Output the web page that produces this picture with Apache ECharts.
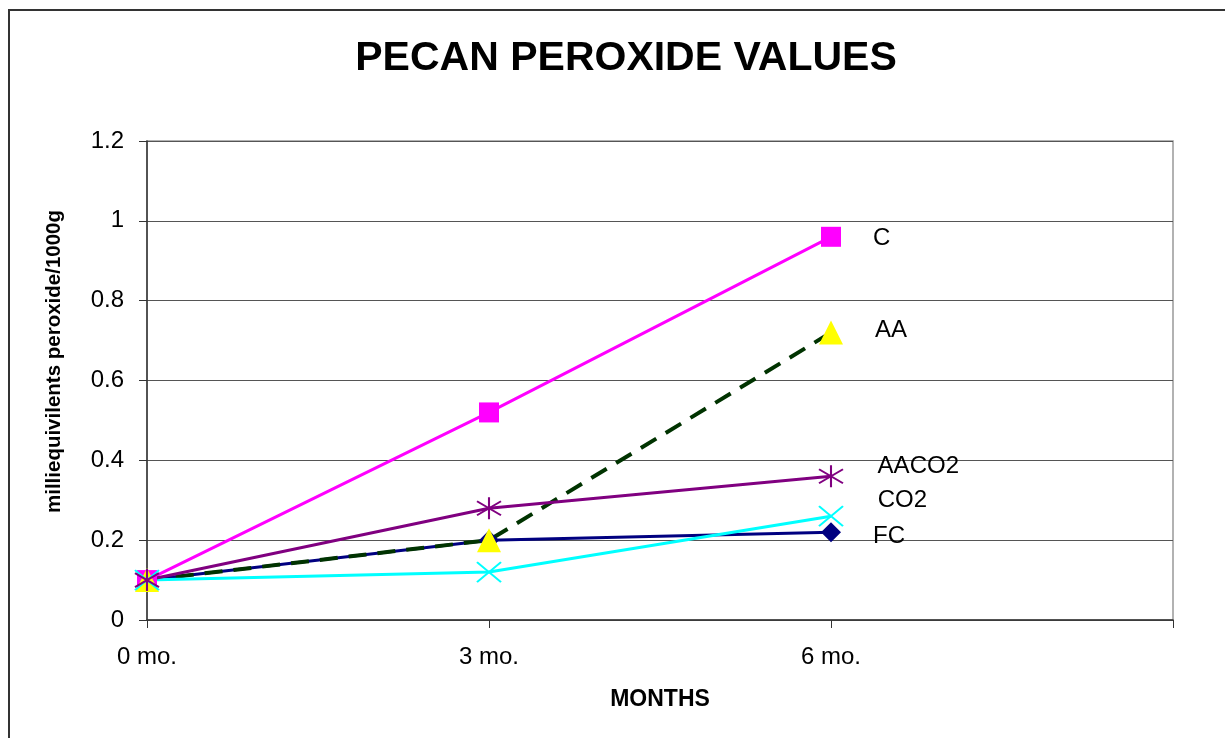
<!DOCTYPE html>
<html lang="en">
<head>
    <meta charset="UTF-8">
    <title>PECAN PEROXIDE VALUES</title>
    <script src="https://cdn.jsdelivr.net/npm/echarts@6/dist/echarts.min.js"></script>
    <style>
        html, body { margin: 0; padding: 0; background: #fff; }
        #chart { width: 1225px; height: 738px; }
    </style>
</head>
<body>
    <div id="chart"></div>

    <script>
        // data
        const months = ['0 mo.', '3 mo.', '6 mo.', ''];
        const seriesNames = ['FC', 'C', 'AA', 'CO2', 'AACO2'];
        const fcValues = [0.1, 0.2, 0.22];
        const cValues = [0.1, 0.52, 0.96];
        const aaValues = [0.1, 0.2, 0.72];
        const co2Values = [0.1, 0.12, 0.26];
        const aaco2Values = [0.1, 0.28, 0.36];
        const yTicks = [0, 0.2, 0.4, 0.6, 0.8, 1, 1.2];

        const font = "'Liberation Sans', Arial, sans-serif";
        const chart = echarts.init(document.getElementById('chart'));

        const xPath = 'path://M0,0 L24,20 M24,0 L0,20';
        const starPath = 'path://M12,0 L12,22 M0,4 L24,18 M24,4 L0,18';

        // label at last point with the series name
        function withEndLabel(values) {
            return values.map((v, i) => i === values.length - 1 ? { value: v, label: { show: true } } : v);
        }

        function lineSeries(name, values, color, symbol, size, extra, labelDy) {
            return Object.assign({
                name: name,
                type: 'line',
                data: withEndLabel(values),
                symbol: symbol,
                symbolSize: size,
                lineStyle: { color: color, width: 3 },
                itemStyle: { color: color },
                label: {
                    show: false,
                    position: 'right',
                    distance: 32,
                    offset: [0, labelDy],
                    formatter: name,
                    color: '#000',
                    fontFamily: font,
                    fontSize: 24
                },
                emphasis: { disabled: true },
                animation: false
            }, extra || {});
        }

        const option = {
            backgroundColor: '#fff',
            title: {
                text: 'PECAN PEROXIDE VALUES',
                left: 621,
                top: 33,
                textAlign: 'center',
                textStyle: { fontFamily: font, fontSize: 41, fontWeight: 'bold', color: '#000' }
            },
            graphic: [{
                type: 'rect',
                shape: { x: 9, y: 10, width: 1300, height: 800 },
                style: { fill: 'none', stroke: '#333', lineWidth: 2 },
                silent: true
            }],
            grid: {
                left: 147, right: 52, top: 141, bottom: 118,
                show: true, borderColor: '#999', borderWidth: 1.5
            },
            xAxis: {
                type: 'category',
                data: months,
                boundaryGap: false,
                name: 'MONTHS',
                nameLocation: 'middle',
                nameGap: 68,
                nameTextStyle: { fontFamily: font, fontSize: 23, fontWeight: 'bold', color: '#000' },
                axisLine: { lineStyle: { color: '#333', width: 1.5 } },
                axisTick: { show: true, length: 8, lineStyle: { color: '#333' } },
                axisLabel: { margin: 25, fontFamily: font, fontSize: 24, color: '#000' },
                splitLine: { show: false }
            },
            yAxis: {
                type: 'value',
                min: yTicks[0],
                max: yTicks[yTicks.length - 1],
                interval: 0.2,
                name: 'milliequivilents peroxide/1000g',
                nameLocation: 'middle',
                nameGap: 82,
                nameTextStyle: {
                    fontFamily: font, fontSize: 20.5, fontWeight: 'bold', color: '#000',
                    padding: [0, 0, 0, 38]
                },
                axisLine: { show: true, lineStyle: { color: '#333', width: 1.5 } },
                axisTick: { show: true, length: 8, lineStyle: { color: '#333' } },
                axisLabel: { margin: 23, fontFamily: font, fontSize: 24, color: '#000' },
                splitLine: { show: true, lineStyle: { color: '#555', width: 1.2 } }
            },
            series: [
                lineSeries(seriesNames[0], fcValues, '#000080', 'diamond', 20, null, 4),
                lineSeries(seriesNames[1], cValues, '#FF00FF', 'rect', 20, null, 2),
                lineSeries(seriesNames[2], aaValues, '#003300', 'triangle', 24, {
                    lineStyle: { color: '#003300', width: 4, type: [18, 11] },
                    itemStyle: { color: '#FFFF00' }
                }, -2),
                lineSeries(seriesNames[3], co2Values, '#00FFFF', xPath, [24, 20], {
                    itemStyle: { color: 'none', borderColor: '#00FFFF', borderWidth: 2 }
                }, -16),
                lineSeries(seriesNames[4], aaco2Values, '#800080', starPath, [24, 22], {
                    itemStyle: { color: 'none', borderColor: '#800080', borderWidth: 2 }
                }, -10)
            ]
        };

        chart.setOption(option);
    </script>
</body>
</html>
